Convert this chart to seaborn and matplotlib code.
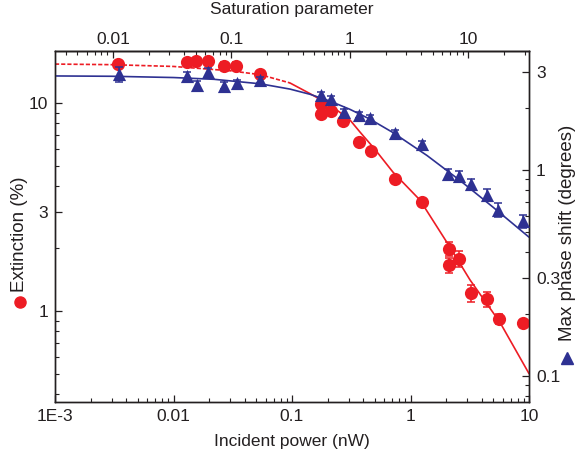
import matplotlib
matplotlib.use("Agg")
import matplotlib.pyplot as plt
import seaborn as sns
from matplotlib.ticker import FixedLocator, FixedFormatter, LogLocator, NullFormatter
from matplotlib.lines import Line2D

# measured extinction (%) vs incident power (nW)
p_ext = [0.0034, 0.0130, 0.0155, 0.0195, 0.0267, 0.0337, 0.0537, 0.176, 0.176, 0.213, 0.269,
         0.367, 0.464, 0.740, 1.25, 2.11, 2.11, 2.57, 3.24, 4.43, 5.58, 8.9]
ext = [15.4, 15.7, 15.9, 15.9, 15.1, 15.1, 13.8, 9.9, 8.85, 9.15, 8.2,
       6.5, 5.88, 4.31, 3.34, 1.99, 1.66, 1.78, 1.22, 1.14, 0.915, 0.876]
ext_err = [0.6, 0.6, 0.6, 0.6, 0.6, 0.6, 0.5, 0.3, 0.3, 0.3, 0.3,
           0.2, 0.2, 0.15, 0.12, 0.15, 0.13, 0.16, 0.11, 0.09, 0.05, 0.03]

# measured max phase shift (degrees)
p_ph = [0.0035, 0.0130, 0.0158, 0.0195, 0.0267, 0.0344, 0.0537, 0.176, 0.213, 0.275,
        0.367, 0.456, 0.740, 1.25, 2.06, 2.57, 3.24, 4.43, 5.47, 8.9]
ph = [2.92, 2.86, 2.59, 2.99, 2.56, 2.64, 2.73, 2.31, 2.21, 1.91,
      1.85, 1.79, 1.51, 1.34, 0.956, 0.935, 0.855, 0.756, 0.64, 0.565]
ph_err = [0.25, 0.12, 0.12, 0.15, 0.1, 0.1, 0.1, 0.08, 0.08, 0.07,
          0.07, 0.06, 0.06, 0.05, 0.05, 0.05, 0.05, 0.05, 0.05, 0.04]

# fitted curves
fit_p_ext = [0.001, 0.003, 0.01, 0.03, 0.054, 0.096, 0.142, 0.209, 0.308, 0.375, 0.5,
             0.71, 1.2, 2.15, 3.18, 5.7, 10]
fit_ext = [15.4, 15.3, 15.0, 14.3, 13.7, 12.5, 11.1, 9.8, 8.3, 7.25, 6.0,
           4.66, 3.42, 2.03, 1.41, 0.88, 0.50]
n_dash = 6  # first points of the red fit are drawn dashed

fit_p_ph = [0.001, 0.003, 0.01, 0.022, 0.054, 0.096, 0.142, 0.209, 0.308, 0.455, 0.71,
            1.38, 2.62, 4.97, 7.92, 10]
fit_ph = [2.86, 2.85, 2.81, 2.755, 2.62, 2.47, 2.33, 2.16, 1.97, 1.765, 1.52,
          1.175, 0.889, 0.66, 0.528, 0.472]

x_ticks = [1e-3, 1e-2, 1e-1, 1, 10]
x_labels = ["1E-3", "0.01", "0.1", "1", "10"]
top_ticks = [0.01, 0.1, 1, 10]
top_labels = ["0.01", "0.1", "1", "10"]
ext_ticks = [1, 3, 10]
ext_labels = ["1", "3", "10"]
ph_ticks = [0.1, 0.3, 1, 3]
ph_labels = ["0.1", "0.3", "1", "3"]

P_SAT = 0.308  # nW per unit saturation parameter

RED = "#ED1C24"
BLUE = "#2E3192"
INK = "#231F20"

sns.set_theme(style="ticks")
plt.rcParams["font.family"] = ["Liberation Sans", "DejaVu Sans"]
plt.rcParams["font.size"] = 12
plt.rcParams["text.color"] = INK
plt.rcParams["axes.labelcolor"] = INK
plt.rcParams["xtick.color"] = INK
plt.rcParams["ytick.color"] = INK
plt.rcParams["axes.edgecolor"] = INK

fig = plt.figure(figsize=(5.77, 4.61), dpi=100)
ax = fig.add_axes([55 / 577, 1 - 402 / 461, 474 / 577, 351 / 461])
ax.set_xscale("log")
ax.set_yscale("log")
ax2 = ax.twinx()
ax2.set_yscale("log")

# red: extinction
sns.lineplot(x=fit_p_ext[:n_dash], y=fit_ext[:n_dash], ax=ax, color=RED, lw=1.2,
             sort=False, estimator=None, dashes=False, linestyle=(0, (2.5, 1.2)))
sns.lineplot(x=fit_p_ext[n_dash - 1:], y=fit_ext[n_dash - 1:], ax=ax, color=RED, lw=1.2,
             sort=False, estimator=None)
ax.errorbar(p_ext, ext, yerr=ext_err, fmt="none", ecolor=RED, elinewidth=1.1, capsize=3, capthick=1.1)
sns.scatterplot(x=p_ext, y=ext, ax=ax, color=RED, marker="o", s=90, edgecolor=RED, linewidth=0, zorder=3)

# blue: phase shift
sns.lineplot(x=fit_p_ph, y=fit_ph, ax=ax2, color=BLUE, lw=1.2, sort=False, estimator=None)
ax2.errorbar(p_ph, ph, yerr=ph_err, fmt="none", ecolor=BLUE, elinewidth=1.1, capsize=3, capthick=1.1)
sns.scatterplot(x=p_ph, y=ph, ax=ax2, color=BLUE, marker="^", s=90, edgecolor=BLUE, linewidth=0, zorder=3)

ax.set_xlim(1e-3, 10)
ax.set_ylim(0.365, 17.8)
ax2.set_ylim(0.0748, 3.78)

ax.xaxis.set_major_locator(FixedLocator(x_ticks))
ax.xaxis.set_major_formatter(FixedFormatter(x_labels))
ax.xaxis.set_minor_locator(LogLocator(base=10, subs=range(2, 10), numticks=30))
ax.xaxis.set_minor_formatter(NullFormatter())
ax.yaxis.set_major_locator(FixedLocator(ext_ticks))
ax.yaxis.set_major_formatter(FixedFormatter(ext_labels))
ax.yaxis.set_minor_locator(LogLocator(base=10, subs=range(2, 10), numticks=30))
ax.yaxis.set_minor_formatter(NullFormatter())
ax2.yaxis.set_major_locator(FixedLocator(ph_ticks))
ax2.yaxis.set_major_formatter(FixedFormatter(ph_labels))
ax2.yaxis.set_minor_locator(LogLocator(base=10, subs=range(2, 10), numticks=30))
ax2.yaxis.set_minor_formatter(NullFormatter())

top = ax.secondary_xaxis("top", functions=(lambda p: p / P_SAT, lambda s: s * P_SAT))
top.xaxis.set_major_locator(FixedLocator(top_ticks))
top.xaxis.set_major_formatter(FixedFormatter(top_labels))
top.xaxis.set_minor_locator(LogLocator(base=10, subs=range(2, 10), numticks=30))
top.xaxis.set_minor_formatter(NullFormatter())

for a in (ax, ax2):
    for s in a.spines.values():
        s.set_linewidth(1.0)
ax.tick_params(axis="both", which="major", direction="in", length=5, width=0.9, labelsize=12.5, pad=5)
ax.tick_params(axis="both", which="minor", direction="in", length=2.8, width=0.8)
ax.tick_params(axis="y", right=False, which="both")
ax2.tick_params(axis="y", which="major", direction="in", length=5, width=0.9, labelsize=12.5, pad=5)
ax2.tick_params(axis="y", which="minor", direction="in", length=2.8, width=0.8)
top.tick_params(axis="x", which="major", direction="in", length=5, width=0.9, labelsize=12.5, pad=3)
top.tick_params(axis="x", which="minor", direction="in", length=2.8, width=0.8)
top.spines["top"].set_linewidth(1.0)

ax.set_xlabel("Incident power (nW)", fontsize=12.5)
ax.xaxis.set_label_coords(0.5, -0.09, transform=ax.transAxes)
top.set_xlabel("Saturation parameter", fontsize=12.5)
top.xaxis.set_label_coords(0.5, 1.104, transform=ax.transAxes)
ax.set_ylabel("Extinction (%)", fontsize=13.5)
ax.yaxis.set_label_coords(-0.058, 0.477, transform=ax.transAxes)
ax2.set_ylabel("Max phase shift (degrees)", fontsize=13.5)
ax2.yaxis.set_label_coords(1.064, 0.481, transform=ax.transAxes)

# marker glyphs that act as the legend inside the axis labels
fig.add_artist(Line2D([20 / 577], [1 - 302 / 461], marker="o", color=RED, markersize=8,
                      transform=fig.transFigure))
fig.add_artist(Line2D([567 / 577], [1 - 358 / 461], marker="^", color=BLUE, markersize=8,
                      transform=fig.transFigure))

fig.savefig("out.png", dpi=100)
